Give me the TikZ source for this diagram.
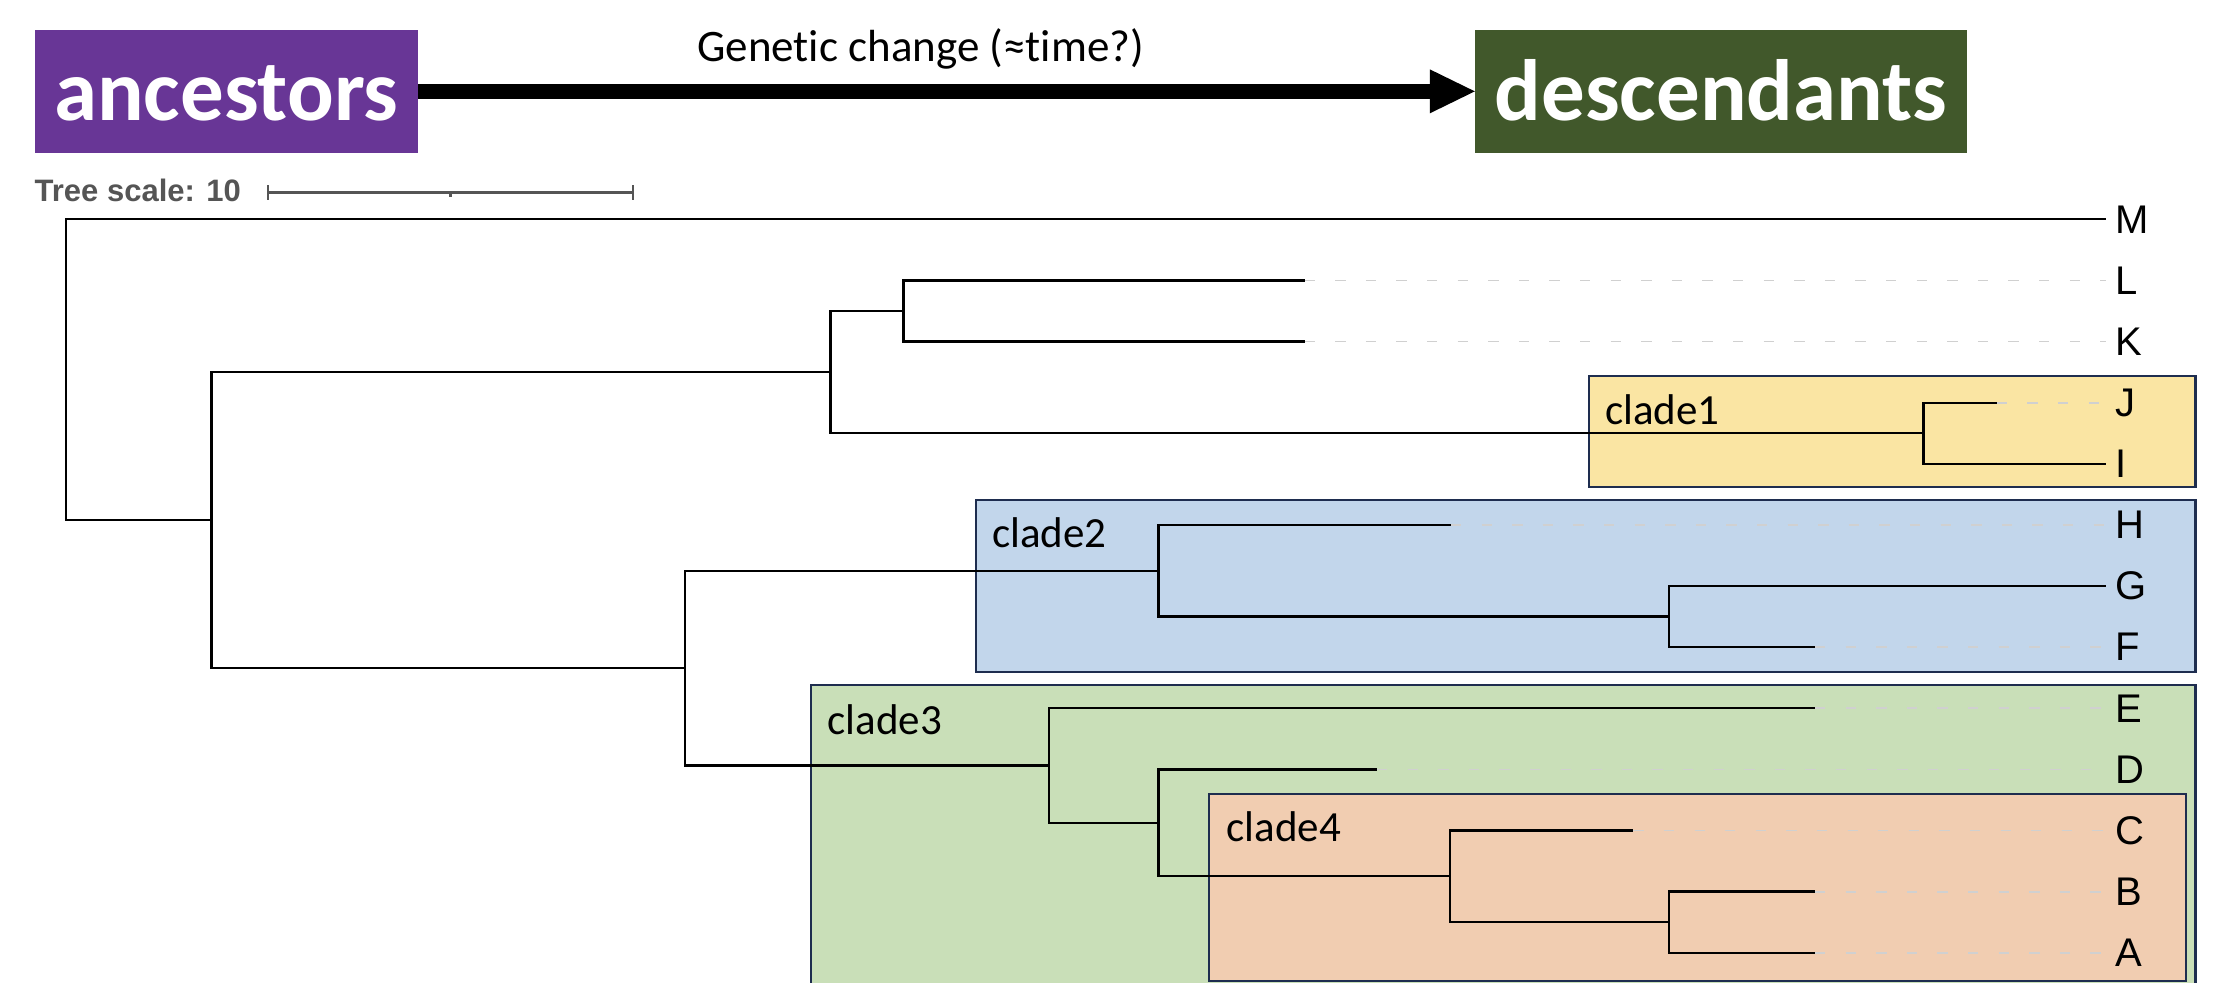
\documentclass[tikz,border=0pt]{standalone}
\usepackage{fontspec}
\setmainfont{Carlito}[Ligatures=NoCommon]
\newfontfamily\arialf{Liberation Sans}
\usetikzlibrary{arrows.meta}
\definecolor{ancpurple}{HTML}{683696}
\definecolor{descgreen}{HTML}{41582B}
\definecolor{cladeone}{HTML}{FAE5A3}
\definecolor{cladetwo}{HTML}{C2D6EB}
\definecolor{cladethree}{HTML}{C9DFB8}
\definecolor{cladefour}{HTML}{F1CDB1}
\definecolor{cladeborder}{HTML}{1E2D4F}
\definecolor{scalegray}{HTML}{555555}
\definecolor{dashgray}{HTML}{D0D0D0}
\begin{document}
\begin{tikzpicture}[x=1pt,y=-1pt,
  branch/.style={line width=2.3pt, black},
  leafdash/.style={line width=1.8pt, dashgray, dash pattern=on 10.3pt off 20.3pt},
  leaflabel/.style={anchor=west, inner xsep=9pt, inner ysep=0pt, font=\arialf\fontsize{40}{40}\selectfont},
  cladebox/.style={draw=cladeborder, line width=2.2pt},
  cladelabel/.style={anchor=base west, inner sep=0pt, font=\fontsize{43}{43}\selectfont},
  titlebox/.style={inner sep=0pt, text=white, font=\bfseries\fontsize{87}{87}\selectfont, text height=58pt, text depth=0pt, minimum height=122.7pt},
  scalebar/.style={line width=2.6pt, scalegray},
]
\useasboundingbox (0,0) rectangle (2226,982);
\clip (0,0) rectangle (2226,982);

% header
\node[titlebox, fill=ancpurple, minimum width=382.7pt] (anc) at (226.35,91.35) {ancestors};
\node[titlebox, fill=descgreen, minimum width=492pt] (desc) at (1721,91.35) {descendants};
\draw[line width=15pt, -{Triangle[length=45pt,width=44pt,line width=0pt]}] (anc.east) -- (desc.west);
\node[anchor=base west, inner sep=0pt, font=\fontsize{45}{45}\selectfont] (gc) at (697,62) {Genetic change (≈time?)};

% tree scale
\node[anchor=base west, inner sep=0pt, text=scalegray, font=\arialf\bfseries\fontsize{31}{31}\selectfont] (ts) at (34.5,201) {Tree scale: 10};
\coordinate (sbL) at (268,192.3);
\coordinate (sbR) at (632.8,192.3);
\coordinate (sbM) at (450.4,192.3);
\draw[scalebar] (sbL) -- (sbR);
\draw[scalebar] ([yshift=-7.5pt]sbL) -- ([yshift=7.5pt]sbL);
\draw[scalebar] ([yshift=-7.5pt]sbR) -- ([yshift=7.5pt]sbR);
\draw[scalebar] (sbM) -- ([yshift=-4.4pt]sbM);

% clade boxes
\path[cladebox, fill=cladethree] (810.6,685.3) rectangle (2195.5,1000);
\path[cladebox, fill=cladefour] (1208.8,794.3) rectangle (2186.2,980.8);
\path[cladebox, fill=cladeone] (1589,376) rectangle (2195.5,486.7);
\path[cladebox, fill=cladetwo] (976,500) rectangle (2195.5,672);
\node[cladelabel] (c1) at (1605,424) {clade1};
\node[cladelabel] (c2) at (992,547.7) {clade2};
\node[cladelabel] (c3) at (827.5,734.3) {clade3};
\node[cladelabel] (c4) at (1226.5,841.7) {clade4};

% leaf labels
\foreach \n/\y in {M/219.3, L/280.4, K/341.5, J/402.7, I/463.8, H/524.9, G/586.0, F/647.1, E/708.3, D/769.4, C/830.5, B/891.6, A/952.7}
  \node[leaflabel] (\n) at (2106,\y) {\n};

% internal nodes
\coordinate (root) at (66,369.7);
\coordinate (N1) at (211.5,520.1);
\coordinate (N2) at (830.5,372.1);
\coordinate (N4) at (903.6,311.0);
\coordinate (N5) at (1923.6,433.2);
\coordinate (N3) at (685,668.2);
\coordinate (N6) at (1158.4,570.7);
\coordinate (N8) at (1668.8,616.6);
\coordinate (N7) at (1049,765.6);
\coordinate (N9) at (1158.4,822.9);
\coordinate (N10) at (1450.2,876.3);
\coordinate (N11) at (1668.8,922.2);

% branch tips
\coordinate (Lt) at (1304.6,280.4);
\coordinate (Kt) at (1304.6,341.5);
\coordinate (Jt) at (1996.7,402.7);
\coordinate (Ht) at (1451,524.9);
\coordinate (Ft) at (1815,647.1);
\coordinate (Et) at (1815,708.3);
\coordinate (Dt) at (1377,769.4);
\coordinate (Ct) at (1633.3,830.5);
\coordinate (Bt) at (1815,891.6);
\coordinate (At) at (1815,952.7);

% dashed leaf extensions
\foreach \n in {L,K,J,H,F,E,D,C,B,A}
  \draw[leafdash] (\n t) -- (\n.west);

% branches
\draw[branch] (root) |- (M.west);
\draw[branch] (root) |- (N1);
\draw[branch] (N1) |- (N2);
\draw[branch] (N1) |- (N3);
\draw[branch] (N2) |- (N4);
\draw[branch] (N2) |- (N5);
\draw[branch] (N4) |- (Lt);
\draw[branch] (N4) |- (Kt);
\draw[branch] (N5) |- (Jt);
\draw[branch] (N5) |- (I.west);
\draw[branch] (N3) |- (N6);
\draw[branch] (N3) |- (N7);
\draw[branch] (N6) |- (Ht);
\draw[branch] (N6) |- (N8);
\draw[branch] (N8) |- (G.west);
\draw[branch] (N8) |- (Ft);
\draw[branch] (N7) |- (Et);
\draw[branch] (N7) |- (N9);
\draw[branch] (N9) |- (Dt);
\draw[branch] (N9) |- (N10);
\draw[branch] (N10) |- (Ct);
\draw[branch] (N10) |- (N11);
\draw[branch] (N11) |- (Bt);
\draw[branch] (N11) |- (At);
\end{tikzpicture}
\end{document}
